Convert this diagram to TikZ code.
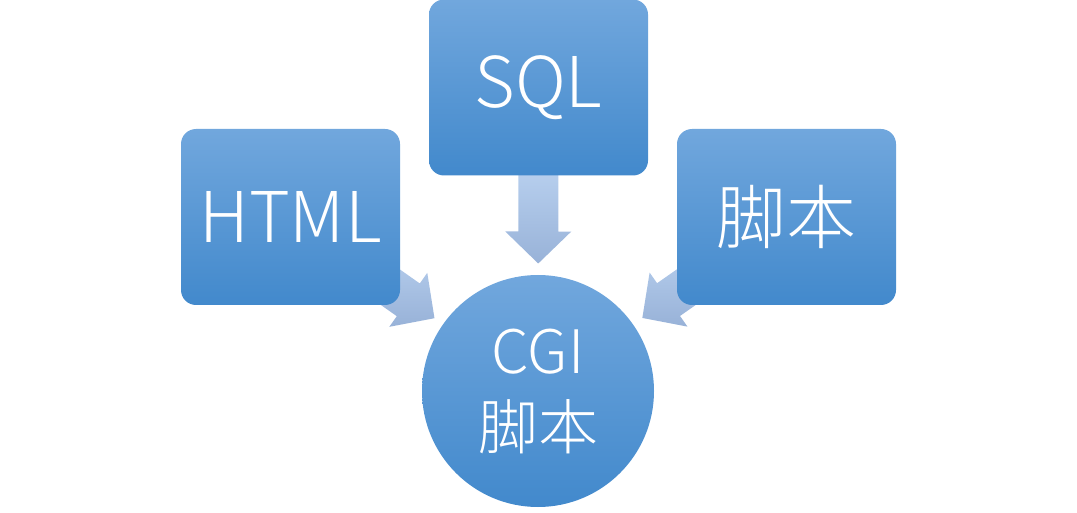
\documentclass[tikz,border=0pt]{standalone}
\usepackage{fontspec}
\setmainfont{Noto Sans CJK SC}[UprightFont=* Light]
\usetikzlibrary{calc}
\pgfdeclarelayer{background}
\pgfsetlayers{background,main}
\definecolor{boxtop}{RGB}{113,167,221}
\definecolor{boxbot}{RGB}{66,137,204}
\definecolor{arrtop}{RGB}{182,206,237}
\definecolor{arrbot}{RGB}{152,178,216}
\tikzset{
  blockbox/.style={rectangle, rounded corners=15pt, minimum width=219pt, minimum height=176pt,
    inner sep=0pt, top color=boxtop, bottom color=boxbot, text=white, font=\fontsize{70}{82}\selectfont},
  roundbox/.style={circle, minimum size=232pt, inner sep=0pt, top color=boxtop, bottom color=boxbot,
    text=white, align=center, font=\fontsize{60}{76}\selectfont},
  blockarrowfill/.style={top color=arrtop, bottom color=arrbot}
}
\newcommand\blockarrow[2]{%
  \coordinate (ta) at ($(#1)!176pt!(#2)$);
  \coordinate (ba) at ($(#1)!144pt!(#2)$);
  \coordinate (sa) at ($(#1)!87pt!(#2)$);
  \path[blockarrowfill] ($(sa)!20pt!90:(ta)$) -- ($(ba)!20pt!90:(ta)$) -- ($(ba)!33pt!90:(ta)$)
    -- (ta) -- ($(ba)!33pt!-90:(ta)$) -- ($(ba)!20pt!-90:(ta)$) -- ($(sa)!20pt!-90:(ta)$) -- cycle;
}
\begin{document}
\begin{tikzpicture}[x=1pt,y=-1pt]
\useasboundingbox (0,0) rectangle (1077,513);
\node[blockbox] (sql) at (538.5,87.5) {SQL};
\node[blockbox] (html) at (290.5,217) {HTML};
\node[blockbox] (script) at (786.5,217) {脚本};
\node[roundbox] (cgi) at (538,391) {CGI\\脚本};
\begin{pgfonlayer}{background}
\blockarrow{sql}{cgi}
\blockarrow{html}{cgi}
\blockarrow{script}{cgi}
\end{pgfonlayer}
\end{tikzpicture}
\end{document}
